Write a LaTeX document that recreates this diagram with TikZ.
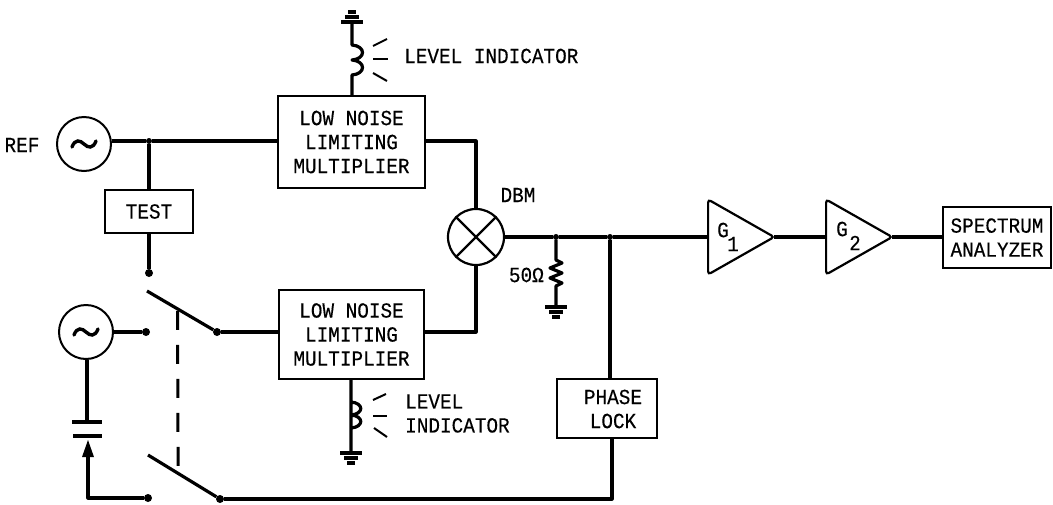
\documentclass[tikz,border=0pt]{standalone}
\usepackage{fontspec}
\setmainfont[FakeStretch=0.9, FakeBold=0.3]{Liberation Mono}
\usepackage{tikz}
\usetikzlibrary{shapes.geometric, arrows, calc}

\begin{document}
\begin{tikzpicture}[x=1pt, y=-1pt]

\tikzset{
  wire/.style={line width=3.2pt, line join=round},
  lett/.style={font=\fontsize{21.5}{24}\selectfont, align=center, inner sep=0pt},
  caja/.style={rectangle, draw=black, line width=2.4pt, inner sep=0pt, lett},
  dot/.style={circle, fill=black, inner sep=0pt, minimum size=8pt},
  joint/.style={circle, fill=black, inner sep=0pt, minimum size=6pt},
  osc/.style={circle, draw=black, line width=2pt, inner sep=0pt, minimum size=54pt,
    path picture={
      \begin{scope}[shift={(path picture bounding box.center)}]
        \draw[line width=3.4pt, line cap=round] (-12,3) .. controls (-9,-5) and (-4,-4) .. (0,0)
          .. controls (4,4) and (9,5) .. (12,-3);
      \end{scope}
    }},
  amp/.style={isosceles triangle, isosceles triangle stretches, draw=black,
    line width=2.2pt, rounded corners=3pt, inner sep=0pt, anchor=apex,
    minimum width=75pt, minimum height=66pt},
  gndmark/.pic={
    \draw[line width=3.4pt] (-11,0) -- (11,0);
    \draw[line width=3.4pt] (-7,5) -- (7,5);
    \draw[line width=3.6pt] (-4,10) -- (4,10);
  }
}

% ---- SOURCES AND BOXES ----
\node (ref)     [lett] at (22,145) {REF};
\node (refosc)  [osc]  at (84,144) {};
\node (vcoosc)  [osc]  at (86,332) {};
\node (test)    [caja, minimum width=88pt, minimum height=43pt] at (149,211.5) {TEST};
\node (limup)   [caja, minimum width=147pt, minimum height=92pt] at (351.5,142)
  {LOW NOISE\\LIMITING\\MULTIPLIER};
\node (limdown) [caja, minimum width=145pt, minimum height=89pt] at (351.5,334.5)
  {LOW NOISE\\LIMITING\\MULTIPLIER};
\node (lock)    [caja, minimum width=100pt, minimum height=59pt] at (607,408.5) {};
\node (locktxt) [lett] at (613,409) {PHASE\\LOCK};
\node (spec)    [caja, minimum width=108pt, minimum height=61pt] at (997,237.5)
  {SPECTRUM\\ANALYZER};

% ---- MIXER ----
\node (dbm) [circle, draw=black, line width=2.2pt, inner sep=0pt, minimum size=56pt] at (476,237) {};
\draw[line width=2.2pt] (dbm.45) -- (dbm.225);
\draw[line width=2.2pt] (dbm.135) -- (dbm.315);
\node (dbmtxt) [lett] at (518,195) {DBM};

% ---- AMPLIFIERS ----
\node (gone) [amp] at (777,237) {};
\node (gtwo) [amp] at (895,237) {};
\node (gonetxt) [lett] at (723,230) {G};
\node (gonesub) [lett] at (733,244) {1};
\node (gtwotxt) [lett] at (842,229) {G};
\node (gtwosub) [lett] at (855,243) {2};

% ---- CONTACTS ----
\node (testdot) [dot] at (149,273) {};
\node (vcodot)  [dot] at (146,332) {};
\node (tunedot) [dot] at (148,498) {};
\node (armup)   [dot] at (217,332) {};
\node (armdown) [dot] at (220,499) {};
\coordinate (freeup)   at (147,291);
\coordinate (freedown) at (148,455);
\node (jref)  [joint] at (149,141) {};
\node (jres)  [joint] at (556,237) {};
\node (jlock) [joint] at (610,237) {};

% ---- MAIN WIRES ----
\draw[wire] (refosc.east |- jref) -- (jref) -- (limup.west |- jref);
\draw[wire] (jref) -- (test.north);
\draw[wire] (test.south) -- (testdot);
\draw[wire] (limup.east |- jref) -| (dbm.north);
\draw[wire] (limdown.east |- armup) -| (dbm.south);
\draw[wire] (dbm.east) -- (jres) -- (jlock) -- (gone.west |- jlock);
\draw[wire] ($(gone.apex)+(-3,0)$) -- (gtwo.west |- gone.apex);
\draw[wire] ($(gtwo.apex)+(-3,0)$) -- (spec.west |- gtwo.apex);
\draw[wire] (jlock) -- (jlock |- lock.north);
\draw[wire] (lock.south -| 612,0) -- (612,499) -- (armdown);
\draw[wire] (vcoosc.east) -- (vcodot);
\draw[wire] (armup) -- (limdown.west |- armup);

% ---- SWITCH ----
\draw[wire] (freeup) -- coordinate[pos=.46] (gangup) (armup);
\draw[wire] (freedown) -- coordinate[pos=.44] (gangdown) (armdown);
\draw[line width=3pt, dash pattern=on 19pt off 15pt] ($(gangup)+(0,2)$) -- (gangdown);

% ---- TUNING DIODE ----
\coordinate (platea) at (87,422);
\coordinate (plateb) at (87,436);
\draw[wire] (vcoosc.south -| platea) -- (platea);
\draw[line width=3.2pt] ($(platea)+(-15,0)$) -- ($(platea)+(15,0)$);
\draw[line width=3.2pt] ($(plateb)+(-14,0)$) -- ($(plateb)+(15,0)$);
\draw[wire] (tunedot) -- (88,498) -- (88,450);
\fill (88,440) -- (94,457) -- (82,457) -- cycle;

% ---- LEVEL INDICATORS ----
\coordinate (gndup) at (352,22);
\coordinate (gnddown) at (351,453);
\draw[wire] (limup.north -| gndup) -- (352,75)
  .. controls +(14,-1) and +(14,1) .. (352,60)
  .. controls +(14,-1) and +(14,1) .. (352,45) -- (gndup);
\draw[wire] (limdown.south -| gnddown) -- (351,428)
  .. controls +(13,-1) and +(13,1) .. (351,415)
  .. controls +(13,-1) and +(13,1) .. (351,402) -- (351,397) -- (gnddown);
\pic[yscale=-1] at (gndup) {gndmark};
\pic at (gnddown) {gndmark};

\coordinate (markup) at (373,59);
\draw[line width=2pt] (markup) ++(0,-13) -- ++(14,-7);
\draw[line width=2pt] (markup) -- ++(15,0);
\draw[line width=2pt] (markup) ++(0,14) -- ++(14,8);
\coordinate (markdown) at (373,416);
\draw[line width=2pt] (markdown) ++(0,-16) -- ++(13,-6);
\draw[line width=2pt] (markdown) -- ++(14,0);
\draw[line width=2pt] (markdown) ++(1,12) -- ++(13,9);

\node (levup) [lett, anchor=west] at (404,56) {LEVEL INDICATOR};
\node (levdown) [lett, anchor=west, align=left] at (405,413.5) {LEVEL\\INDICATOR};

% ---- LOAD ----
\coordinate (resend) at (556,307);
\draw[wire] (jres) -- (556,260) -- ++(6,3) -- ++(-12,5) -- ++(12,5)
  -- ++(-12,5) -- ++(12,5) -- ++(-6,3) -- (resend);
\pic at (resend) {gndmark};
\node (ohm) [lett, anchor=east] at (544,275) {50Ω};

\useasboundingbox (0,0) rectangle (1053,504);

\end{tikzpicture}
\end{document}
